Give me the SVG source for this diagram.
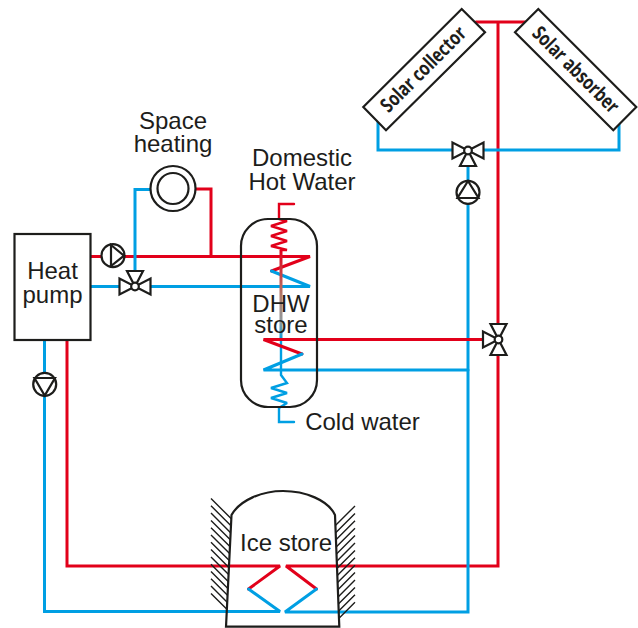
<svg xmlns="http://www.w3.org/2000/svg" width="638" height="628" viewBox="0 0 638 628">
<style>
.r{fill:none;stroke:#e2001a;stroke-width:3;stroke-miterlimit:2;stroke-linecap:round}
.b{fill:none;stroke:#009fe3;stroke-width:3;stroke-miterlimit:2;stroke-linecap:round}
.z{stroke-width:2.400}
.k{fill:#fff;stroke:#1d1d1b;stroke-width:2.2}
.n{fill:none;stroke:#1d1d1b;stroke-width:2.2}
.h{fill:none;stroke:#1d1d1b;stroke-width:1.4}
.t{font-family:"Liberation Sans",Arial,sans-serif;font-size:24px;fill:#1d1d1b;text-anchor:middle}
.s{font-family:"Open Sans","Noto Sans",sans-serif;font-size:20px;font-weight:700;fill:#1d1d1b;text-anchor:middle}
</style>
<defs>
<linearGradient id="g" gradientUnits="userSpaceOnUse" x1="281" y1="250" x2="281" y2="340">
<stop offset="0" stop-color="#e2001a"/><stop offset="0.5" stop-color="#b07a6a"/><stop offset="0.8" stop-color="#8f9a9f"/><stop offset="1" stop-color="#009fe3"/>
</linearGradient>
<g id="v"><path class="k" d="M0 0L-15.500 -8V8ZM0 0L15.500 -8V8ZM0 0L-8 15.500H8Z"/><circle class="k" r="3.800"/></g>
</defs>
<g id="connectors">
<path class="r" d="M476 22H525M498 22V566H286L316.500 589"/>
<path class="b" d="M378 120V150H619V122M468 150V612H285L316.500 589"/>
<path class="r" d="M67 340V566H280L248.500 589"/>
<path class="b" d="M44.500 340V611.500H280L248.500 589"/>
<path class="r" d="M90 256.500H310L271.500 271"/>
<path class="r" d="M211 256.500V189H190"/>
<path class="b" d="M90 286.500H310L271.500 271"/>
<path class="b" d="M135 286V189.500H155"/>
<path class="r z" d="M279 219V204H294M279 219L287 221L271 226L287 231L271 236L287 241L271 246L287 250H281"/>
<path d="M281 250V340" fill="none" stroke="url(#g)" stroke-width="3"/>
<path class="b z" d="M281 340V375L287 383L271 388L287 393L271 398L287 403L279 408V422H294"/>
<path class="r" d="M498 339.500H263.500L302 354"/>
<path class="b" d="M468 370H263.500L302 354"/>
</g>
<g id="heat-pump"><rect class="k" x="14.500" y="234" width="76" height="106"/><text class="t" x="52.500" y="279">Heat</text><text class="t" x="52.500" y="303">pump</text></g>
<g id="space-heating"><circle class="k" cx="173" cy="188.500" r="22.500"/><circle class="n" cx="173" cy="188.500" r="15.500"/><text class="t" x="173" y="129">Space</text><text class="t" x="173" y="152">heating</text></g>
<g id="pump-1"><circle class="k" cx="113" cy="255.700" r="11.500"/><path class="n" d="M111 245V266L124 255.700Z"/></g>
<g id="pump-2"><circle class="k" cx="44.700" cy="384.300" r="11.500"/><path class="n" d="M34.500 378H55L44.700 395.500Z"/></g>
<g id="pump-3"><circle class="k" cx="468" cy="192.300" r="11.500"/><path class="n" d="M457.500 198H478.500L468 181Z"/></g>
<use id="valve-1" href="#v" x="135" y="286.500" transform="rotate(180 135 286.500)"/>
<use id="valve-2" href="#v" x="468" y="150.500"/>
<g id="valve-3"><path class="k" d="M498.500 339.500L490.500 324H506.500ZM498.500 339.500L490.500 355H506.500ZM498.500 339.500L483 331.500V347.500Z"/><circle class="k" cx="498.500" cy="339.500" r="3.800"/></g>
<g id="dhw-store"><rect class="n" x="241" y="219" width="76" height="188" rx="27" ry="27"/><text class="t" x="281" y="312">DHW</text><text class="t" x="281" y="333">store</text></g>
<g id="labels"><text class="t" x="302" y="166">Domestic</text><text class="t" x="302" y="190">Hot Water</text><text class="t" x="362.500" y="430">Cold water</text></g>
<g id="solar-collector"><path class="k" d="M461.700 9L485 32.300L386 130.300L363.300 107Z"/><text class="s" transform="translate(428 74) rotate(-45) scale(.78 1)">Solar collector</text></g>
<g id="solar-absorber"><path class="k" d="M538.300 9L515 32.300L613.300 130.300L636.300 107Z"/><text class="s" transform="translate(571 74.500) rotate(45) scale(.78 1)">Solar absorber</text></g>
<g id="ice-store"><path class="n" d="M226 626.700L231.500 515C240 500 262 491 283 491C305 491 328 500 335 515L339.300 626.700Z"/>
<path class="h" d="M211 498.500l20.300 20.300M211 505.800l20 20M211 513.100l19.600 19.600M211 520.400l19.300 19.300M211 527.700l18.900 18.900M211 535l18.600 18.600M211 542.300l18.300 18.300M211 549.600l17.900 17.900M211 556.900l17.600 17.600M211 564.200l17.200 17.200M211 571.500l16.900 16.900M211 578.800l16.500 16.500M211 586.100l16.200 16.200M211 593.400l15.900 15.900"/>
<path class="h" d="M355 506l-19.600 19.600M355 513.400l-19.300 19.300M355 520.800l-19 19M355 528.200l-18.800 18.800M355 535.600l-18.500 18.500M355 543l-18.200 18.200M355 550.400l-17.900 17.900M355 557.800l-17.700 17.700M355 565.200l-17.400 17.400M355 572.600l-17.100 17.100M355 580l-16.900 16.900M355 587.400l-16.600 16.600M355 594.800l-16.300 16.300M355 602.200l-16 16"/>
<text class="t" x="286" y="551">Ice store</text></g>
</svg>
